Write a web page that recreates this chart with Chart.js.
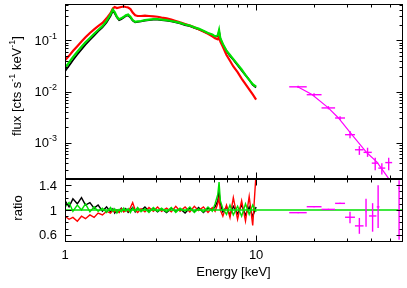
<!DOCTYPE html>
<html><head><meta charset="utf-8">
<script src="https://cdn.jsdelivr.net/npm/chart.js@4/dist/chart.umd.min.js"></script>
<style>
html,body{margin:0;padding:0;background:#fff;}
#wrap{position:relative;width:407px;height:288px;overflow:hidden;}
canvas{position:absolute;left:0;top:0;}
</style></head><body>
<div id="wrap"><canvas id="cTop" width="407" height="288"></canvas><canvas id="cBot" width="407" height="288"></canvas></div>
<script>
// ---------- data ----------
const energy = [1.00,1.05,1.10,1.16,1.22,1.28,1.35,1.42,1.49,1.57,1.65,1.73,1.78,1.82,1.87,1.92,1.97,2.03,2.08,2.14,2.20,2.26,2.33,2.40,2.50,2.62,2.75,2.90,3.05,3.2,3.4,3.6,3.8,4.0,4.25,4.5,4.75,5.0,5.3,5.6,5.9,6.1,6.3,6.4,6.5,6.7,7.0,7.3,7.6,8.0,8.4,8.8,9.2,9.6,10.0];
const fluxBlack = [0.025,0.032,0.041,0.053,0.067,0.083,0.102,0.124,0.150,0.180,0.225,0.300,0.380,0.340,0.280,0.250,0.260,0.280,0.300,0.310,0.280,0.245,0.225,0.230,0.235,0.245,0.250,0.255,0.255,0.250,0.245,0.235,0.225,0.215,0.200,0.190,0.175,0.165,0.150,0.137,0.127,0.118,0.122,0.150,0.108,0.083,0.062,0.050,0.042,0.033,0.026,0.021,0.017,0.0135,0.012];
const fluxRed = [0.041,0.050,0.062,0.077,0.095,0.115,0.140,0.165,0.190,0.220,0.270,0.340,0.420,0.450,0.430,0.440,0.450,0.460,0.450,0.440,0.410,0.350,0.310,0.300,0.300,0.305,0.300,0.295,0.290,0.280,0.270,0.255,0.240,0.225,0.210,0.195,0.180,0.165,0.150,0.135,0.120,0.110,0.105,0.120,0.095,0.075,0.052,0.040,0.031,0.024,0.018,0.014,0.011,0.0088,0.0070];
const fluxGreen = [0.029,0.037,0.047,0.060,0.075,0.092,0.112,0.135,0.160,0.190,0.240,0.320,0.400,0.360,0.290,0.260,0.270,0.290,0.310,0.320,0.290,0.250,0.230,0.235,0.240,0.250,0.255,0.260,0.260,0.255,0.250,0.240,0.230,0.220,0.205,0.195,0.180,0.170,0.155,0.140,0.130,0.120,0.125,0.160,0.110,0.085,0.063,0.052,0.043,0.034,0.027,0.021,0.017,0.014,0.0125];
const ratioBlack = [1.15,1.05,1.18,1.10,1.20,1.08,1.12,1.03,1.08,0.98,1.05,0.97,1.02,0.95,1.00,0.97,1.03,0.98,1.02,0.96,1.00,1.04,0.97,1.03,0.99,1.05,0.98,1.03,0.97,1.02,0.96,1.03,0.98,1.02,0.95,1.03,0.97,1.04,0.96,1.03,1.00,1.05,1.15,1.30,1.10,0.97,1.05,0.92,1.06,0.94,1.08,0.92,1.05,0.90,1.05];
const ratioRed = [0.90,0.85,0.88,0.82,0.90,0.86,0.92,0.88,0.95,0.92,0.98,0.95,1.00,0.97,1.00,0.96,1.02,0.97,1.00,0.98,1.04,1.12,1.00,0.96,1.02,0.97,1.04,0.98,1.05,0.98,1.03,0.97,1.06,0.98,1.05,0.97,1.06,0.99,1.05,0.96,1.04,0.98,1.10,1.20,1.00,0.90,1.08,0.88,1.20,0.85,1.15,0.82,1.22,0.75,1.60];
const ratioGreen = [1.05,1.12,0.98,1.08,1.00,1.10,0.97,1.05,0.98,1.03,0.96,1.04,0.98,1.02,0.95,1.01,0.97,1.03,0.98,1.02,0.96,1.03,0.98,1.04,0.97,1.02,0.96,1.04,0.98,1.03,0.97,1.04,0.96,1.03,0.98,1.05,0.96,1.02,0.97,1.05,0.98,1.10,1.25,1.45,1.15,1.02,0.93,1.08,0.92,1.06,0.90,1.10,0.93,1.08,0.97];
// hard X-ray (magenta) spectrum
const hxE   = [16.6,20.1,23.9,27.5,31.0,34.7,38.3,42.0,45.5,49.4];
const hxElo = [14.9,18.4,22.0,25.9,29.2,32.9,36.5,40.3,43.6,47.4];
const hxEhi = [18.4,22.0,25.9,29.2,32.9,36.5,40.3,43.6,47.4,51.5];
const hxF   = [0.0124,0.0087,0.0048,0.00305,0.00144,0.00073,0.00065,0.00040,0.00032,0.00041];
const hxFlo = [0.0118,0.0082,0.0045,0.0028,0.00123,0.00058,0.00053,0.00029,0.00024,0.00029];
const hxFhi = [0.0130,0.0093,0.0052,0.0033,0.00170,0.00086,0.00080,0.00051,0.00040,0.00051];
const hxModelE = [16.4,19.6,23.8,26.9,31.7,38.0,42.8,49.1,53.0];
const hxModelF = [0.01253,0.00874,0.00486,0.00309,0.00144,0.000637,0.000424,0.000206,0.00013];
const hxRE   = [16.6,20.1,23.9,27.5,31.0,34.7,37.6,40.7,43.5,56.0];
const hxRElo = [14.9,18.4,22.0,25.9,29.2,32.9,37.4,39.0,42.8,55.6];
const hxREhi = [18.4,22.0,25.9,29.2,32.9,36.5,37.8,42.6,44.2,56.4];
const hxR    = [0.957,1.053,1.01,1.107,0.883,0.744,0.973,0.904,1.05,1.35];
const hxRlo  = [0.947,1.043,1.0,1.097,0.787,0.616,0.73,0.65,0.71,0.52];
const hxRhi  = [0.967,1.063,1.02,1.117,0.973,0.872,1.18,1.11,1.40,1.48];
const unityE = [1, 58];
const unityR = [1, 1];
// axes
const xMin = 1, xMax = 58;
const fluxMin = 2.05e-4, fluxMax = 0.515;
const ratioMin = 0.5, ratioMax = 1.5;
const xMajor = [1, 10];
const xMinor = [2,3,4,5,6,7,8,9,20,30,40,50];
const xLabels = ['1','10'];
const fluxMajor = [1e-3, 1e-2, 1e-1];
const fluxLabelExp = ['-3','-2','-1'];
const ratioMajor = [0.6, 1.0, 1.4];
const ratioLabels = ['0.6','1','1.4'];
const ratioMinor = [0.5,0.7,0.8,0.9,1.1,1.2,1.3,1.5];

// ---------- helpers ----------
const FONT = '"Liberation Sans", Arial, Helvetica, sans-serif';
const pts = (xs, ys) => xs.map((v, i) => ({x: v, y: ys[i]}));

function hLine(ctx, x1, y1, x2, y2) { ctx.beginPath(); ctx.moveTo(x1, y1); ctx.lineTo(x2, y2); ctx.stroke(); }

function drawRuns(ctx, runs, x, y, align) {
  let w = 0;
  runs.forEach(r => { ctx.font = (r[1] ? '9px ' : '13px ') + FONT; r.w = ctx.measureText(r[0]).width; w += r.w; });
  let cx = align === 'right' ? x - w : align === 'center' ? x - w / 2 : x;
  runs.forEach(r => {
    ctx.font = (r[1] ? '9px ' : '13px ') + FONT;
    ctx.fillText(r[0], cx, r[1] ? y - 6 : y);
    cx += r.w;
  });
}

const errorBarPlugin = {
  id: 'errbars',
  afterDatasetsDraw(chart) {
    const {ctx, chartArea: a, scales: {x, y}} = chart;
    ctx.save();
    ctx.beginPath(); ctx.rect(a.left, a.top, a.right - a.left, a.bottom - a.top); ctx.clip();
    chart.data.datasets.forEach(ds => {
      if (!ds.errorBars) return;
      const e = ds.errorBars;
      ctx.strokeStyle = ds.borderColor; ctx.lineWidth = 1.4;
      ds.data.forEach((p, i) => {
        const px = x.getPixelForValue(p.x), py = y.getPixelForValue(p.y);
        hLine(ctx, x.getPixelForValue(e.xlo[i]), py, x.getPixelForValue(e.xhi[i]), py);
        hLine(ctx, px, y.getPixelForValue(e.ylo[i]), px, y.getPixelForValue(e.yhi[i]));
      });
    });
    ctx.restore();
  }
};

function framePlugin(kind) {
  return {
    id: 'frame_' + kind,
    afterDraw(chart) {
      const {ctx, chartArea: a, scales: {x, y}} = chart;
      ctx.save();
      ctx.strokeStyle = '#000'; ctx.lineWidth = 1;
      ctx.strokeRect(Math.round(a.left) + 0.5, Math.round(a.top) + 0.5, Math.round(a.right - a.left), Math.round(a.bottom - a.top));
      const T = Math.round(a.top) + 0.5, B = Math.round(a.bottom) + 0.5, L = Math.round(a.left) + 0.5, R = Math.round(a.right) + 0.5;
      const xt = (v, len) => { const px = Math.round(x.getPixelForValue(v)) + 0.5; hLine(ctx, px, B, px, B - len); hLine(ctx, px, T, px, T + len); };
      const yt = (v, len) => { const py = Math.round(y.getPixelForValue(v)) + 0.5; hLine(ctx, L, py, L + len, py); hLine(ctx, R, py, R - len, py); };
      xMajor.forEach(v => xt(v, 6));
      xMinor.forEach(v => xt(v, 3));
      ctx.fillStyle = '#000';
      ctx.textBaseline = 'alphabetic';
      if (kind === 'top') {
        fluxMajor.forEach(v => yt(v, 6));
        for (let d = -4; d <= -1; d++) for (let m = 2; m <= 9; m++) {
          const v = m * Math.pow(10, d);
          if (v > fluxMin && v < fluxMax) yt(v, 3);
        }
        fluxMajor.forEach((v, i) => {
          const py = y.getPixelForValue(v);
          drawRuns(ctx, [['10', 0], [fluxLabelExp[i], 1]], 57, py + 4.5, 'right');
        });
        ctx.save();
        ctx.translate(21, 86);
        ctx.rotate(-Math.PI / 2);
        drawRuns(ctx, [['flux [cts s', 0], ['-1', 1], [' keV', 0], ['-1', 1], [']', 0]], 0, 0, 'center');
        ctx.restore();
      } else {
        ratioMajor.forEach(v => yt(v, 6));
        ratioMinor.forEach(v => yt(v, 3));
        ctx.font = '13px ' + FONT;
        ctx.textAlign = 'right';
        ratioMajor.forEach((v, i) => ctx.fillText(ratioLabels[i], 57, y.getPixelForValue(v) + 4.5));
        ctx.textAlign = 'center';
        xMajor.forEach((v, i) => ctx.fillText(xLabels[i], x.getPixelForValue(v), 259));
        ctx.fillText('Energy [keV]', (a.left + a.right) / 2, 276);
        ctx.save();
        ctx.translate(22, 208);
        ctx.rotate(-Math.PI / 2);
        ctx.fillText('ratio', 0, 0);
        ctx.restore();
      }
      ctx.restore();
    }
  };
}

const BLACK = '#000000', RED = '#ff0000', GREEN = '#00e000', MAGENTA = '#ff00ff';

function lineDs(data, color, order, w) {
  return {data, borderColor: color, backgroundColor: color, borderWidth: w || 1.5, pointRadius: 0, tension: 0, order, fill: false};
}

Chart.defaults.animation = false;
Chart.defaults.font.family = FONT;

const common = (padding, yType, yMin, yMax) => ({
  type: 'line',
  options: {
    responsive: false, animation: false, events: [],
    layout: {padding},
    plugins: {legend: {display: false}, tooltip: {enabled: false}},
    scales: {
      x: {type: 'logarithmic', min: xMin, max: xMax, display: false},
      y: {type: yType, min: yMin, max: yMax, display: false}
    }
  }
});

const topCfg = common({left: 65, right: 5, top: 4, bottom: 110}, 'logarithmic', fluxMin, fluxMax);
topCfg.data = {datasets: [
  lineDs(pts(energy, fluxGreen), GREEN, 0, 2.2),
  lineDs(pts(energy, fluxRed), RED, 1, 2.2),
  lineDs(pts(energy, fluxBlack), BLACK, 2, 1.8),
  lineDs(pts(hxModelE, hxModelF), MAGENTA, 3, 1.2),
  Object.assign(lineDs(pts(hxE, hxF), MAGENTA, 4, 1.2), {showLine: false,
    errorBars: {xlo: hxElo, xhi: hxEhi, ylo: hxFlo, yhi: hxFhi}})
]};
topCfg.plugins = [errorBarPlugin, framePlugin('top')];
new Chart(document.getElementById('cTop'), topCfg);

const botCfg = common({left: 65, right: 5, top: 179, bottom: 47}, 'linear', ratioMin, ratioMax);
botCfg.data = {datasets: [
  lineDs(pts(unityE, unityR), GREEN, 0, 1.5),
  lineDs(pts(energy, ratioGreen), GREEN, 1, 1.4),
  lineDs(pts(energy, ratioRed), RED, 2, 1.4),
  lineDs(pts(energy, ratioBlack), BLACK, 3, 1.4),
  Object.assign(lineDs(pts(hxRE, hxR), MAGENTA, 4, 1.2), {showLine: false,
    errorBars: {xlo: hxRElo, xhi: hxREhi, ylo: hxRlo, yhi: hxRhi}})
]};
botCfg.plugins = [errorBarPlugin, framePlugin('bot')];
new Chart(document.getElementById('cBot'), botCfg);
</script>
</body></html>
